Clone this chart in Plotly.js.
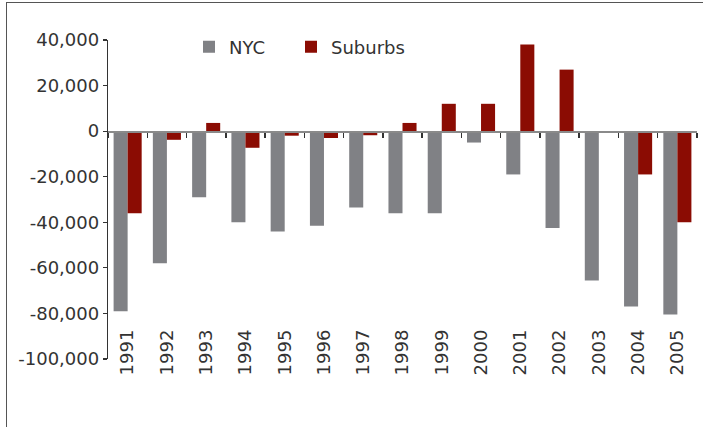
<!DOCTYPE html>
<html>
<head>
<meta charset="utf-8">
<script src="https://cdn.plot.ly/plotly-3.0.1.min.js"></script>
<style>
  html, body { margin: 0; padding: 0; background: #fff; }
  #wrap { position: relative; width: 703px; height: 427px; overflow: hidden; }
  #chart { width: 703px; height: 427px; }
  #frame { position: absolute; left: 6px; top: 2px; width: 720px; height: 450px;
           border-top: 1.5px solid #555; border-left: 1.5px solid #555; pointer-events: none; }
</style>
</head>
<body>
<div id="wrap">
  <div id="chart"></div>
  <div id="frame"></div>
</div>
<script>
const years = ['1991','1992','1993','1994','1995','1996','1997','1998','1999','2000','2001','2002','2003','2004','2005'];
const nyc = [-79000,-58000,-29000,-40000,-44000,-41500,-33500,-36000,-36000,-5000,-19000,-42500,-65500,-77000,-80500];
const suburbs = [-36000,-3800,3600,-7300,-2000,-3000,-1800,3600,12000,12000,38000,27000,0,-19000,-40000];
const yTicks = [40000,20000,0,-20000,-40000,-60000,-80000,-100000];
const yTickText = ['40,000','20,000','0','-20,000','-40,000','-60,000','-80,000','-100,000'];

const FONT = '"DejaVu Sans", "Open Sans", sans-serif';
const TXT = '#333333';
const plotTop = 40, plotBottom = 359, plotH = plotBottom - plotTop;
const labelPos = (plotBottom - 325) / plotH;
const zeroPos = (0 - (-100000)) / (40000 - (-100000));

const boundaries = years.map((_, i) => i - 0.5).concat([years.length - 0.5]);

const traces = [
  { type: 'bar', name: 'NYC', x: years, y: nyc, marker: { color: '#808185' }, legend: 'legend' },
  { type: 'bar', name: 'Suburbs', x: years, y: suburbs, marker: { color: '#8b0c03' }, legend: 'legend2' },
  { type: 'scatter', x: [0], y: [0], xaxis: 'x2', mode: 'markers', marker: { opacity: 0 }, showlegend: false, hoverinfo: 'skip' }
];

const legendBase = {
  orientation: 'h', xanchor: 'left', yanchor: 'middle', y: 0.978,
  font: { family: FONT, size: 18, color: TXT },
  bgcolor: 'rgba(0,0,0,0)', borderwidth: 0
};

const layout = {
  width: 703, height: 427,
  margin: { l: 108, r: 6, t: plotTop, b: 427 - plotBottom, pad: 0 },
  paper_bgcolor: '#fff', plot_bgcolor: '#fff',
  font: { family: FONT, size: 18, color: TXT },
  barmode: 'group', bargap: 0.285, bargroupgap: 0,
  showlegend: true,
  legend: Object.assign({}, legendBase, { x: (189 - 108) / 589 }),
  legend2: Object.assign({}, legendBase, { x: (291 - 108) / 589 }),
  xaxis: {
    type: 'category', categoryarray: years, range: [-0.5, years.length - 0.5],
    anchor: 'free', position: labelPos,
    showline: false, showgrid: false, zeroline: false, ticks: '',
    tickangle: -90, tickfont: { family: FONT, size: 18, color: TXT },
    fixedrange: true
  },
  xaxis2: {
    overlaying: 'x', anchor: 'free', position: zeroPos,
    range: [-0.5, years.length - 0.5],
    showline: true, linecolor: '#8a8a8a', linewidth: 1.5,
    ticks: 'outside', ticklen: 5, tickwidth: 1.5, tickcolor: '#333',
    tickmode: 'array', tickvals: boundaries, showticklabels: false,
    showgrid: false, zeroline: false
  },
  yaxis: {
    range: [-100000, 40000],
    tickmode: 'array', tickvals: yTicks, ticktext: yTickText,
    showline: true, linecolor: '#333', linewidth: 1.2,
    ticks: 'outside', ticklen: 4, tickwidth: 1.2, tickcolor: '#333',
    showgrid: false, zeroline: false,
    tickfont: { family: FONT, size: 18, color: TXT }
  }
};

Plotly.newPlot('chart', traces, layout, { staticPlot: true, displayModeBar: false });
</script>
</body>
</html>
